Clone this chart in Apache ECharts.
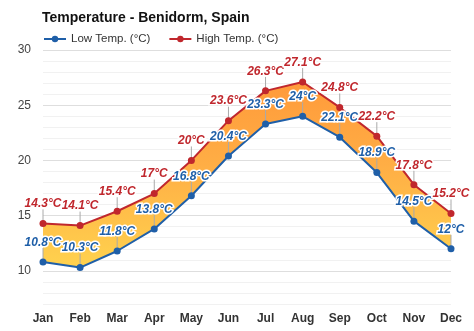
<!DOCTYPE html>
<html><head><meta charset="utf-8">
<script src="https://cdn.jsdelivr.net/npm/echarts@6/dist/echarts.min.js"></script>
<style>html,body{margin:0;padding:0;background:#fff}#c{width:474px;height:331px}</style>
</head><body><div id="c"></div>
<script>
const months = ['Jan','Feb','Mar','Apr','May','Jun','Jul','Aug','Sep','Oct','Nov','Dec'];
const lowTemp = [10.8,10.3,11.8,13.8,16.8,20.4,23.3,24,22.1,18.9,14.5,12];
const highTemp = [14.3,14.1,15.4,17,20,23.6,26.3,27.1,24.8,22.2,17.8,15.2];
const yTickLabels = [10,15,20,25,30];

const diff = highTemp.map((h,i)=>+(h-lowTemp[i]).toFixed(1));
const chart = echarts.init(document.getElementById('c'));
const font = 'Arial, "Liberation Sans", sans-serif';
const lbl = (color)=>({show:true,position:'top',distance:10,formatter:p=>p.value+'°C',
  color:color,fontStyle:'italic',fontWeight:'bold',fontSize:12,fontFamily:font,
  textBorderColor:'#fff',textBorderWidth:3});
chart.setOption({
  animation:false,
  title:{text:'Temperature - Benidorm, Spain',left:37,top:6,
    textStyle:{fontSize:14,fontWeight:'bold',color:'#111',fontFamily:font}},
  legend:{left:38,top:28,itemWidth:22,itemHeight:8,itemGap:18,
    textStyle:{fontSize:11.5,color:'#333',fontFamily:font},
    data:['Low Temp. (°C)','High Temp. (°C)']},
  grid:{left:43,right:23,top:50,bottom:27},
  xAxis:{type:'category',data:months,boundaryGap:false,
    axisLine:{show:false},axisTick:{show:false},
    axisLabel:{margin:9,fontWeight:'bold',fontSize:12,color:'#333',fontFamily:font},
    splitLine:{show:false}},
  yAxis:{type:'value',min:7,max:30,interval:1,
    axisLine:{show:false},axisTick:{show:false},
    axisLabel:{fontSize:12,color:'#444',fontFamily:font,margin:12,
      formatter:v=>yTickLabels.includes(v)?String(v):''},
    splitLine:{lineStyle:{color:['#f1f1f1','#f1f1f1','#f1f1f1','#dedede','#f1f1f1'],width:1}}},
  series:[
    {name:'base',type:'line',stack:'band',data:lowTemp,symbol:'none',lineStyle:{opacity:0},silent:true,z:1},
    {name:'band',type:'line',stack:'band',data:diff,symbol:'none',lineStyle:{opacity:0},silent:true,z:1,
      areaStyle:{opacity:1,color:new echarts.graphic.LinearGradient(0,0,0,1,[
        {offset:0,color:'#ff9a3a'},{offset:0.45,color:'#ffae45'},{offset:1,color:'#ffd24e'}])}},
    {name:'leaders',type:'custom',z:2,silent:true,data:lowTemp.map((v,i)=>[i,v,highTemp[i]]),
      renderItem:(params,api)=>{
        const lo=api.coord([api.value(0),api.value(1)]);
        const hi=api.coord([api.value(0),api.value(2)]);
        return {type:'group',children:[
          {type:'line',shape:{x1:lo[0],y1:lo[1],x2:lo[0],y2:lo[1]-14},style:{stroke:'#aaa',lineWidth:1}},
          {type:'line',shape:{x1:hi[0],y1:hi[1],x2:hi[0],y2:hi[1]-14},style:{stroke:'#aaa',lineWidth:1}}
        ]};
      }},
    {name:'Low Temp. (°C)',type:'line',data:lowTemp,symbol:'circle',symbolSize:7,z:5,
      itemStyle:{color:'#1f5fa8'},lineStyle:{color:'#1f5fa8',width:2},label:lbl('#1f5fa8')},
    {name:'High Temp. (°C)',type:'line',data:highTemp,symbol:'circle',symbolSize:7,z:5,
      itemStyle:{color:'#c0272d'},lineStyle:{color:'#c0272d',width:2},label:lbl('#c0272d')}
  ]
});
</script></body></html>
